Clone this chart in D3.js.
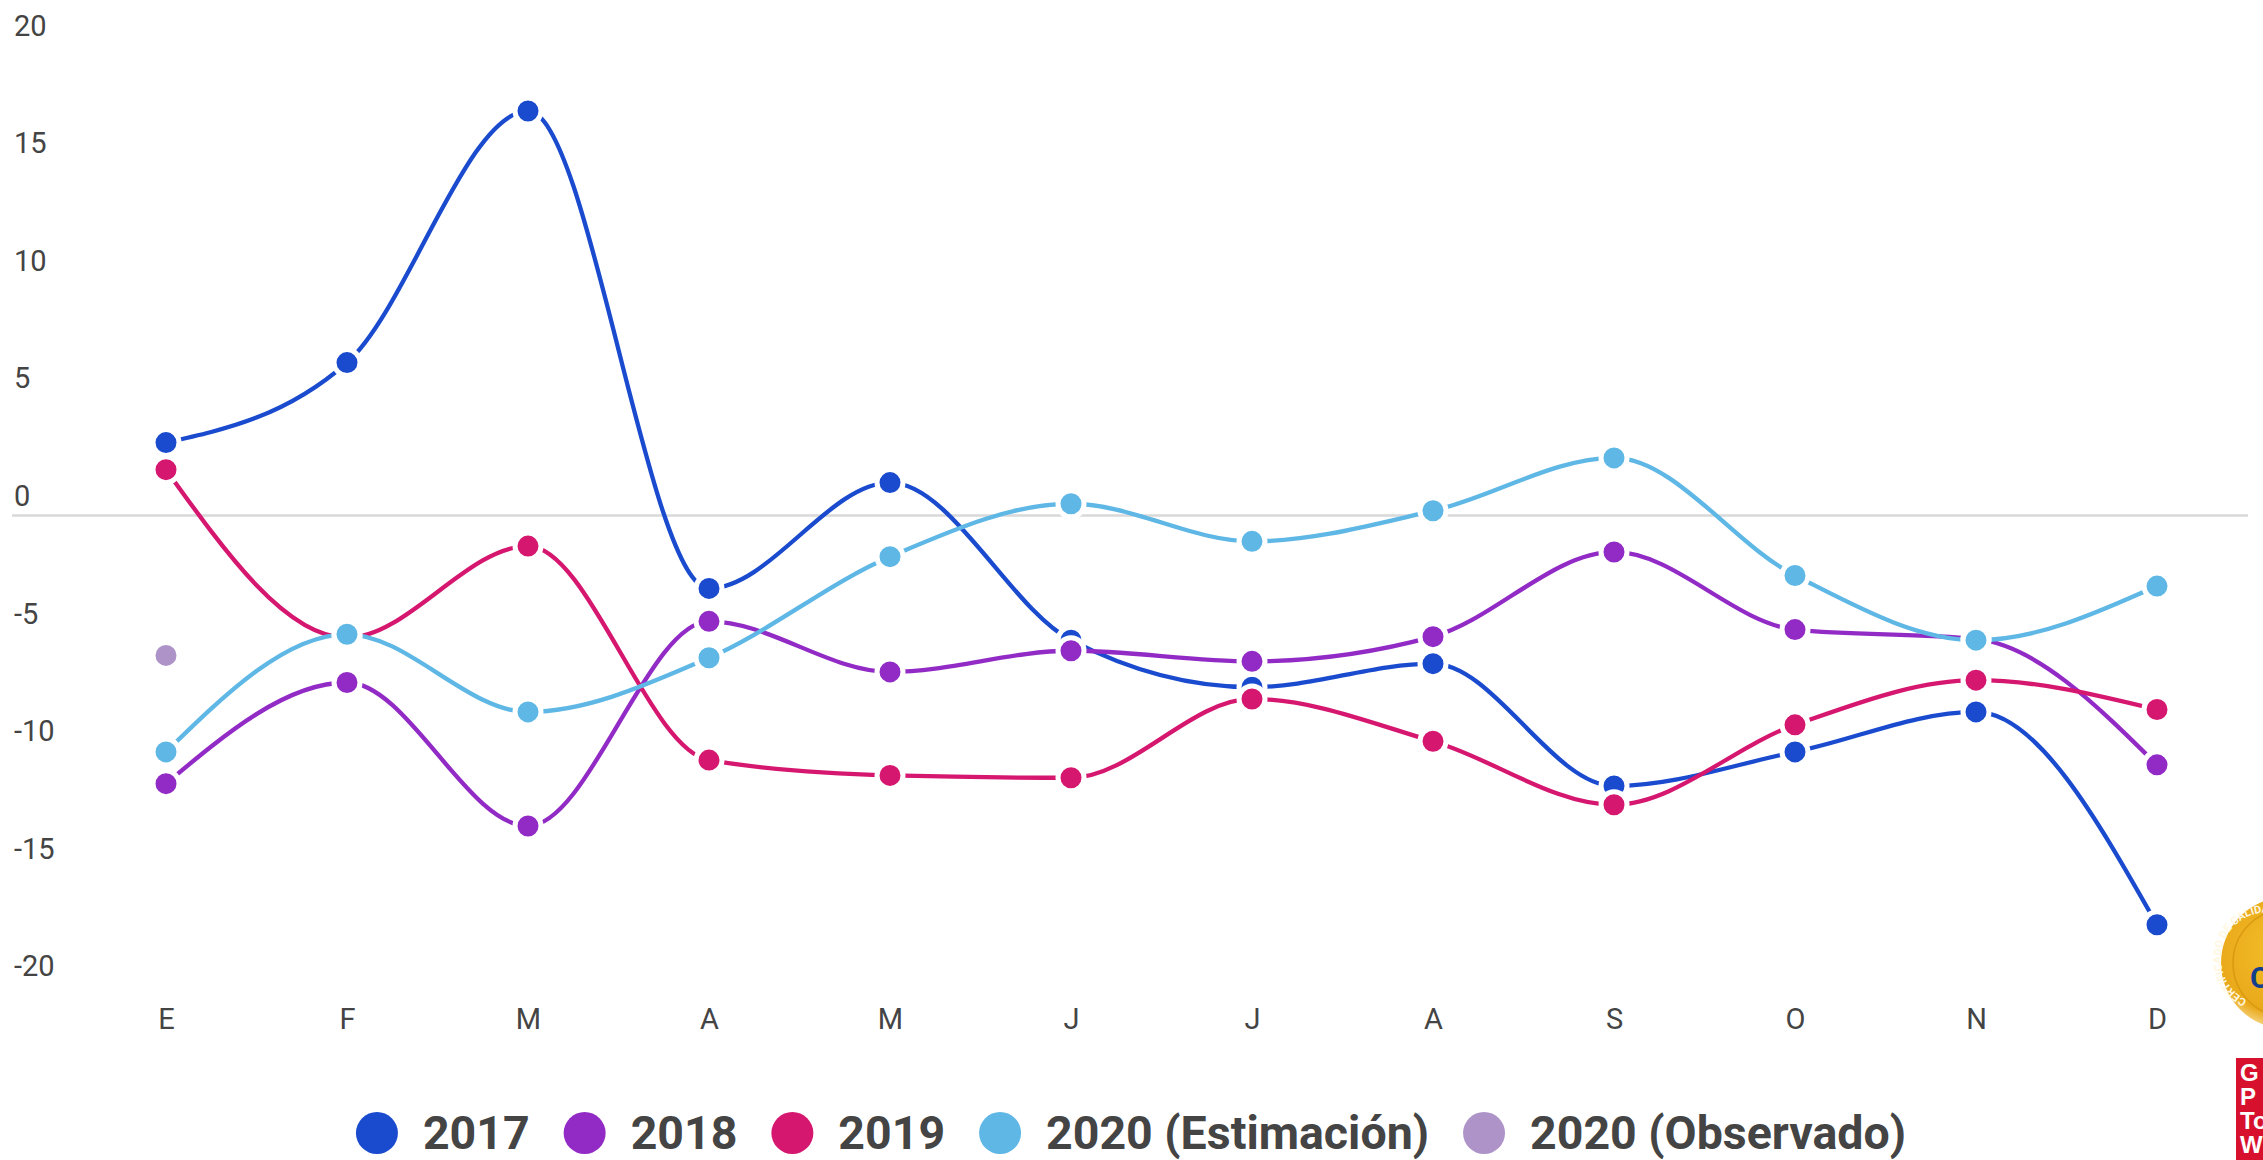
<!DOCTYPE html>
<html>
<head>
<meta charset="utf-8">
<script src="https://cdn.jsdelivr.net/npm/d3@7"></script>
<style>
  body { margin: 0; background: #fff; }
  svg { display: block; font-family: Roboto, "Noto Sans", sans-serif; }
</style>
</head>
<body>
<svg id="chart" width="2263" height="1160"></svg>
<script>
// month labels (Spanish initials)
const months = ["E", "F", "M", "A", "M", "J", "J", "A", "S", "O", "N", "D"];
const yTicks = [20, 15, 10, 5, 0, -5, -10, -15, -20];

// series values
const s2017 = [3.1, 6.5, 17.2, -3.1, 1.4, -5.3, -7.3, -6.3, -11.5, -10.05, -8.35, -17.4];
const s2018 = [-11.4, -7.1, -13.2, -4.5, -6.65, -5.75, -6.2, -5.15, -1.55, -4.85, -5.25, -10.6];
const s2019 = [1.95, -5.2, -1.3, -10.4, -11.05, -11.15, -7.8, -9.6, -12.3, -8.9, -7.0, -8.25];
const s2020est = [-10.05, -5.05, -8.35, -6.05, -1.75, 0.5, -1.1, 0.2, 2.45, -2.55, -5.3, -3.0];
const s2020obs = [-5.95, null, null, null, null, null, null, null, null, null, null, null];

const seriesNames = ["2017", "2018", "2019", "2020 (Estimación)", "2020 (Observado)"];
const seriesColors = ["#1a4bcf", "#922bc6", "#d6176f", "#5eb7e5", "#ae93c9"];
const seriesValues = [s2017, s2018, s2019, s2020est, s2020obs];

const series = seriesNames.map((name, i) => ({ name: name, color: seriesColors[i], values: seriesValues[i] }));

const svg = d3.select("#chart");
const textColor = "#444";

// scales
const x = d3.scalePoint()
    .domain(d3.range(months.length))
    .range([166, 2157]);

const y = d3.scaleLinear()
    .domain([-20, 20])
    .range([985.9, 45.1]);

// zero baseline
svg.append("line")
    .attr("x1", 12)
    .attr("x2", 2248)
    .attr("y1", y(0))
    .attr("y2", y(0))
    .attr("stroke", "#d9d9d9")
    .attr("stroke-width", 2.5);

// y axis, labels sit above their gridline
const yAxis = svg.append("g")
    .attr("transform", "translate(14,0)")
    .call(d3.axisLeft(y).tickValues(yTicks).tickSize(0).tickFormat(d => String(d)));
yAxis.select(".domain").remove();
yAxis.selectAll("text")
    .attr("x", 0)
    .attr("dy", null)
    .attr("y", -10)
    .attr("text-anchor", "start")
    .attr("fill", textColor)
    .style("font-size", "29px")
    .style("font-family", "Roboto");

// x axis
const xAxis = svg.append("g")
    .attr("transform", "translate(0,1029)")
    .call(d3.axisBottom(x).tickSize(0).tickFormat(i => months[i]));
xAxis.select(".domain").remove();
xAxis.selectAll("text")
    .attr("y", 0)
    .attr("dy", null)
    .attr("fill", textColor)
    .style("font-size", "29px")
    .style("font-family", "Roboto");

// lines
const line = d3.line()
    .defined(d => d != null)
    .x((d, i) => x(i))
    .y(d => y(d))
    .curve(d3.curveMonotoneX);

svg.append("g")
    .selectAll("path")
    .data(series)
    .enter()
    .append("path")
    .attr("d", d => line(d.values))
    .attr("fill", "none")
    .attr("stroke", d => d.color)
    .attr("stroke-width", 4.3);

// points with white ring
series.forEach(s => {
    svg.append("g")
        .selectAll("circle")
        .data(s.values.map((v, i) => ({ v: v, i: i })).filter(d => d.v != null))
        .enter()
        .append("circle")
        .attr("cx", d => x(d.i))
        .attr("cy", d => y(d.v))
        .attr("r", 13)
        .attr("fill", s.color)
        .attr("stroke", "#fff")
        .attr("stroke-width", 5);
});

// legend, centred under the chart
const legend = svg.append("g");
const legendY = 1133;
let cx = 0;
const items = [];
series.forEach(s => {
    const g = legend.append("g");
    g.append("circle")
        .attr("cx", cx)
        .attr("cy", legendY)
        .attr("r", 21)
        .attr("fill", s.color);
    const t = g.append("text")
        .attr("x", cx + 46)
        .attr("y", legendY + 16)
        .attr("fill", textColor)
        .style("font-size", "46.5px")
        .style("font-weight", "bold")
        .style("font-family", "Roboto")
        .text(s.name);
    const w = t.node().getComputedTextLength();
    items.push(cx + 46 + w);
    cx = cx + 46 + w + 55;
});
const legendW = items[items.length - 1] + 21;
legend.attr("transform", `translate(${1131 - legendW / 2 + 21},0)`);

// badges at the bottom right corner (cut by the page edge)
const defs = svg.append("defs");
const grad = defs.append("radialGradient").attr("id", "gold").attr("cx", "45%").attr("cy", "40%").attr("r", "60%");
grad.append("stop").attr("offset", "0%").attr("stop-color", "#f4c02a");
grad.append("stop").attr("offset", "80%").attr("stop-color", "#e9a81a");
grad.append("stop").attr("offset", "100%").attr("stop-color", "#f7d98a");

const badge = svg.append("g");
badge.append("circle").attr("cx", 2287).attr("cy", 963).attr("r", 66).attr("fill", "url(#gold)");
badge.append("circle").attr("cx", 2287).attr("cy", 963).attr("r", 54).attr("fill", "none")
    .attr("stroke", "#d99a12").attr("stroke-width", 1.5);
defs.append("path").attr("id", "arc").attr("d", "M 2247 1000 A 46 46 0 0 1 2287 917");
badge.append("text")
    .style("font-size", "11px")
    .style("font-weight", "bold")
    .attr("fill", "#fff7e0")
    .append("textPath")
    .attr("href", "#arc")
    .text("CERTIFICADO DE CALIDAD");
badge.append("text")
    .attr("x", 2250)
    .attr("y", 988)
    .attr("fill", "#123f8c")
    .style("font-size", "30px")
    .style("font-weight", "bold")
    .text("C");

const gptw = svg.append("g");
gptw.append("rect").attr("x", 2236).attr("y", 1058).attr("width", 40).attr("height", 110).attr("fill", "#d7112d");
["G", "P", "To", "W"].forEach((t, i) => {
    gptw.append("text")
        .attr("x", 2240)
        .attr("y", 1081 + i * 24)
        .attr("fill", "#fff")
        .style("font-size", "24px")
        .style("font-weight", "bold")
        .style("font-family", "Liberation Sans")
        .text(t);
});
</script>
</body>
</html>
